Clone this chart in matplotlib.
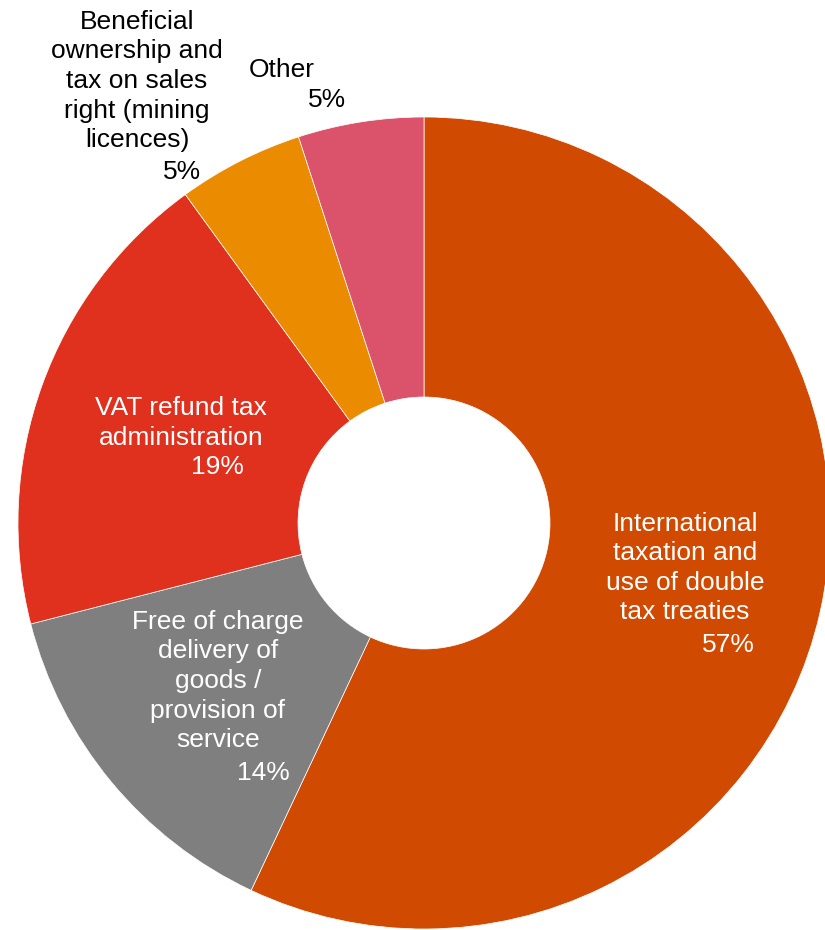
import matplotlib
matplotlib.use("Agg")
import matplotlib.pyplot as plt

# Share of tax dispute topics
categories = [
    "International\ntaxation and\nuse of double\ntax treaties",
    "Free of charge\ndelivery of\ngoods /\nprovision of\nservice",
    "VAT refund tax\nadministration",
    "Beneficial\nownership and\ntax on sales\nright (mining\nlicences)",
    "Other",
]
shares = [57, 14, 19, 5, 5]
colors = ["#D04A02", "#7F7F7F", "#E0301E", "#EB8C00", "#DB536A"]
text_colors = ["white", "white", "white", "black", "black"]

# label layout (pixel units relative to the ring centre; y up)
name_pos = [(261, -45), (-206, -158), (-243, 100), (-287, 442), (-142, 453)]
pct_pos = [(304, -122), (-161, -250), (-207, 56), (-242, 351), (-97, 423)]

W, H = 825, 930
cx, cy = 424, 523
R, r_in = 406, 126

plt.rcParams["font.family"] = ["Liberation Sans", "DejaVu Sans"]
fig = plt.figure(figsize=(W / 100, H / 100), dpi=100)
ax = fig.add_axes([0, 0, 1, 1])

ax.pie(shares, colors=colors, startangle=90, counterclock=False, radius=R,
       center=(0, 0), frame=True,
       wedgeprops=dict(width=R - r_in, edgecolor="white", linewidth=0.5))
ax.set_xlim(-cx, W - cx)
ax.set_ylim(-(H - cy), cy)
ax.set_aspect("equal")
ax.axis("off")

fs = 19
for name, v, c, (nx, ny), (px, py) in zip(categories, shares, text_colors, name_pos, pct_pos):
    ax.text(nx, ny, name, ha="center", va="center", multialignment="center",
            fontsize=fs, color=c, linespacing=1.29)
    ax.text(px, py, f"{v}%", ha="center", va="center", fontsize=fs, color=c)

fig.savefig("out.png", dpi=100)
